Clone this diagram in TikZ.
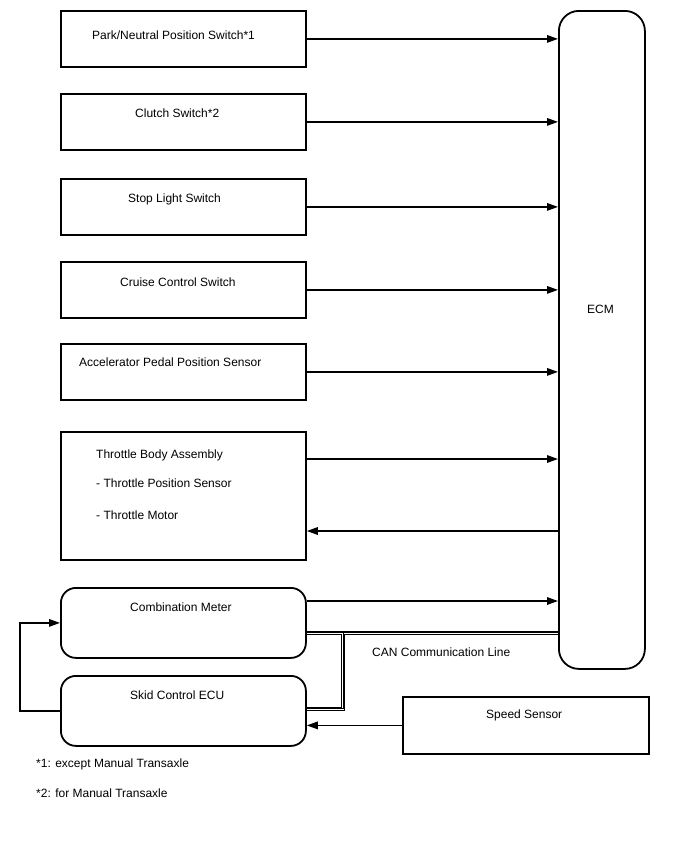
\documentclass[tikz,border=0pt]{standalone}
\usepackage{fontspec}
\setmainfont{Liberation Sans}
\usetikzlibrary{arrows.meta,backgrounds}
\begin{document}
\begin{tikzpicture}[x=1pt,y=-1pt,
  font=\fontsize{12}{14}\selectfont,
  box/.style={draw, line width=1.8pt, minimum width=245pt, minimum height=56pt, anchor=north west, inner sep=0pt},
  rbox/.style={box, rounded corners=15pt, minimum height=70pt},
  txt/.style={anchor=west, inner sep=0pt},
  arr/.style={line width=1.5pt, -{Triangle[length=11pt,width=7.5pt]}},
  ln/.style={line width=1.5pt}]
\useasboundingbox (0,0) rectangle (688,852);
% boxes
\node[box] (pn) at (60,10) {};
\node[box] (cl) at (60,93) {};
\node[box] (sl) at (60,178) {};
\node[box] (cc) at (60,261) {};
\node[box] (ap) at (60,343) {};
\node[box, minimum height=128pt] (tb) at (60,431) {};
\node[rbox] (cm) at (60,587) {};
\node[rbox] (sk) at (60,675) {};
\node[box, rounded corners=20pt, minimum width=86pt, minimum height=658pt] (ecm) at (558,10) {};
\node[box, minimum width=246pt, minimum height=57pt] (ss) at (402,696) {};
% texts
\node[txt] (tpn) at (92,35) {Park/Neutral Position Switch*1};
\node[txt] (tcl) at (135,113) {Clutch Switch*2};
\node[txt] (tsl) at (128,199) {Stop Light Switch};
\node[txt] (tcc) at (120,282) {Cruise Control Switch};
\node[txt] (tap) at (79,362) {Accelerator Pedal Position Sensor};
\node[txt] (ttb1) at (96,455) {Throttle Body Assembly};
\node[txt] (ttb2) at (96,483) {- Throttle Position Sensor};
\node[txt] (ttb3) at (96,515) {- Throttle Motor};
\node[txt] (tcm) at (130,607) {Combination Meter};
\node[txt] (tsk) at (130,695) {Skid Control ECU};
\node[txt] (tss) at (486,715) {Speed Sensor};
\node[txt] (tecm) at (587,309) {ECM};
\node[txt] (tcan) at (372,652) {CAN Communication Line};
\node[txt] (fn1) at (36,764) {*1: except Manual Transaxle};
\node[txt] (fn2) at (36,793) {*2: for Manual Transaxle};
% arrows to ECM
\draw[arr] (pn.east) -- (pn.east -| ecm.west);
\draw[arr] (cl.east) -- (cl.east -| ecm.west);
\draw[arr] (sl.east) -- (sl.east -| ecm.west);
\draw[arr] (cc.east) -- (cc.east -| ecm.west);
\draw[arr] (ap.east) -- (ap.east -| ecm.west);
\coordinate (tbin) at ([yshift=-28pt]tb.north east);
\coordinate (tbout) at ([yshift=-100pt]tb.north east);
\draw[arr] (tbin) -- (tbin -| ecm.west);
\draw[arr] (tbout -| ecm.west) -- (tbout);
\coordinate (cmout) at ([yshift=-14pt]cm.north east);
\draw[arr] (cmout) -- (cmout -| ecm.west);
% speed sensor to skid
\draw[arr] (ss.west) -- (ss.west -| sk.east);
% loop skid -> combination meter
\coordinate (lp) at (20,0);
\draw[arr] (sk.west) -- (sk.west -| lp) -- (cm.west -| lp) -- (cm.west);
% CAN line (triple)
\coordinate (can1) at ([yshift=-10pt]cm.east);
\coordinate (can2) at (343,0);
\coordinate (can3) at ([yshift=2pt]sk.east);
\begin{scope}[on background layer]
\foreach \w/\c in {4.6pt/black, 2.6pt/white, 0.9pt/black}{
  \draw[line width=\w, \c] (can1) -- (can1 -| ecm.west);
  \draw[line width=\w, \c] (can1 -| can2) -- (can3 -| can2) -- (can3);
}
\end{scope}
\end{tikzpicture}
\end{document}
